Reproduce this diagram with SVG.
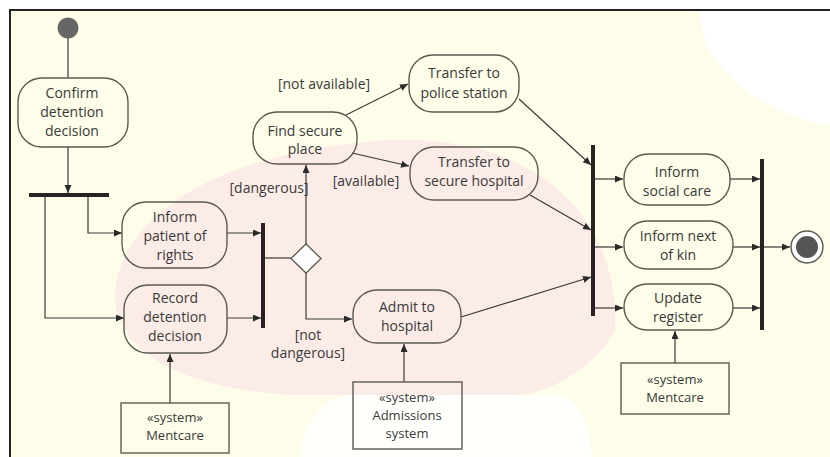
<svg xmlns="http://www.w3.org/2000/svg" width="830" height="457" viewBox="0 0 830 457">
<style>
.box{fill:none;stroke:#5a5a50;stroke-width:1.4}
.t{font-family:"Open Sans","Noto Sans",sans-serif;font-size:14px;fill:#3a3a3a;text-anchor:middle}
.s{font-size:13px}
.c{fill:none;stroke:#3a3a3a;stroke-width:1.2}
.bar{fill:#2a2222}
</style>
<defs>
<marker id="ah" markerUnits="userSpaceOnUse" markerWidth="9" markerHeight="8" refX="8" refY="3.5" orient="auto">
<path d="M0,0 L8,3.5 L0,7 z" fill="#2a2a2a"/>
</marker>
</defs>
<g id="background">
<rect x="0" y="0" width="830" height="457" fill="#fdfde9"/>
<path d="M115,300 C115,210 230,150 390,140 C540,135 620,220 615,330 C600,360 560,390 520,395 H290 C200,390 120,360 115,300 Z" fill="#fbe7e6" opacity="0.8"/>
<path d="M300,457 C305,420 320,400 350,395 H560 C580,400 590,420 592,457 Z" fill="#ffffff" opacity="0.85"/>
<path d="M700,10 H830 V125 C790,120 740,95 715,60 C705,45 700,25 700,10 Z" fill="#ffffff"/>
<rect x="0" y="0" width="830" height="10" fill="#ffffff"/>
<rect x="0" y="0" width="10" height="457" fill="#ffffff"/>
<path d="M10,457 V10 H830" fill="none" stroke="#222" stroke-width="2"/>
</g>
<g id="connectors">
<line class="c" x1="68" y1="38" x2="68" y2="78"/>
<line class="c" x1="68" y1="147" x2="68" y2="193" marker-end="url(#ah)"/>
<path class="c" d="M88,197 V233 H122" marker-end="url(#ah)"/>
<path class="c" d="M45,197 V318 H124" marker-end="url(#ah)"/>
<line class="c" x1="227" y1="233" x2="261" y2="233" marker-end="url(#ah)"/>
<line class="c" x1="227" y1="318" x2="261" y2="318" marker-end="url(#ah)"/>
<line class="c" x1="265" y1="258" x2="291" y2="258"/>
<line class="c" x1="306" y1="244" x2="306" y2="165" marker-end="url(#ah)"/>
<path class="c" d="M306,273 V319 H352" marker-end="url(#ah)"/>
<line class="c" x1="346" y1="115" x2="408" y2="84" marker-end="url(#ah)"/>
<line class="c" x1="352" y1="153" x2="409" y2="166" marker-end="url(#ah)"/>
<line class="c" x1="519" y1="99" x2="591" y2="165" marker-end="url(#ah)"/>
<line class="c" x1="530" y1="195" x2="591" y2="230" marker-end="url(#ah)"/>
<line class="c" x1="461" y1="317" x2="591" y2="277" marker-end="url(#ah)"/>
<line class="c" x1="595" y1="179" x2="623" y2="179" marker-end="url(#ah)"/>
<line class="c" x1="595" y1="247" x2="623" y2="247" marker-end="url(#ah)"/>
<line class="c" x1="595" y1="308" x2="623" y2="308" marker-end="url(#ah)"/>
<line class="c" x1="730" y1="179" x2="760" y2="179" marker-end="url(#ah)"/>
<line class="c" x1="733" y1="247" x2="760" y2="247" marker-end="url(#ah)"/>
<line class="c" x1="733" y1="308" x2="760" y2="308" marker-end="url(#ah)"/>
<line class="c" x1="764" y1="247" x2="790" y2="247" marker-end="url(#ah)"/>
<line class="c" x1="170" y1="403" x2="170" y2="354" marker-end="url(#ah)"/>
<line class="c" x1="404" y1="382" x2="404" y2="344" marker-end="url(#ah)"/>
<line class="c" x1="675" y1="363" x2="675" y2="331" marker-end="url(#ah)"/>
<text class="t" x="324" y="89">[not available]</text>
<text class="t" x="366" y="186">[available]</text>
<text class="t" x="269" y="193">[dangerous]</text>
<text class="t" x="308" y="340">[not</text>
<text class="t" x="308" y="358">dangerous]</text>
</g>
<g id="start"><circle cx="68" cy="28" r="10.5" fill="#666"/></g>
<g id="confirm"><rect class="box" x="18" y="78" width="110" height="69" rx="24"/>
<text class="t" x="72" y="98">Confirm</text><text class="t" x="72" y="117">detention</text><text class="t" x="72" y="136">decision</text></g>
<g id="fork1"><rect class="bar" x="29" y="193" width="80" height="4"/></g>
<g id="inform-patient"><rect class="box" x="122" y="202" width="105" height="66" rx="24"/>
<text class="t" x="175" y="222">Inform</text><text class="t" x="175" y="241">patient of</text><text class="t" x="175" y="260">rights</text></g>
<g id="record"><rect class="box" x="124" y="285" width="103" height="68" rx="24"/>
<text class="t" x="175" y="303">Record</text><text class="t" x="175" y="322">detention</text><text class="t" x="175" y="341">decision</text></g>
<g id="join1"><rect class="bar" x="261" y="223" width="4" height="105"/></g>
<g id="decision"><polygon points="306,244 321,258.5 306,273 291,258.5" fill="#fff" stroke="#5a5a50" stroke-width="1.3"/></g>
<g id="find"><rect class="box" x="253" y="112" width="104" height="52" rx="24"/>
<text class="t" x="305" y="136">Find secure</text><text class="t" x="305" y="154">place</text></g>
<g id="police"><rect class="box" x="409" y="55" width="110" height="57" rx="24"/>
<text class="t" x="464" y="78">Transfer to</text><text class="t" x="464" y="98">police station</text></g>
<g id="secure-hospital"><rect class="box" x="410" y="147" width="128" height="53" rx="24"/>
<text class="t" x="474" y="167">Transfer to</text><text class="t" x="474" y="186">secure hospital</text></g>
<g id="admit"><rect class="box" x="353" y="290" width="108" height="53" rx="24"/>
<text class="t" x="407" y="312">Admit to</text><text class="t" x="407" y="331">hospital</text></g>
<g id="fork2"><rect class="bar" x="591" y="145" width="4" height="171"/></g>
<g id="social-care"><rect class="box" x="624" y="154" width="106" height="51" rx="24"/>
<text class="t" x="677" y="177">Inform</text><text class="t" x="677" y="196">social care</text></g>
<g id="next-of-kin"><rect class="box" x="624" y="221" width="109" height="48" rx="23"/>
<text class="t" x="678" y="241">Inform next</text><text class="t" x="678" y="260">of kin</text></g>
<g id="update-register"><rect class="box" x="624" y="284" width="109" height="46" rx="23"/>
<text class="t" x="678" y="303">Update</text><text class="t" x="678" y="322">register</text></g>
<g id="join2"><rect class="bar" x="760" y="159" width="4" height="171"/></g>
<g id="end"><circle cx="807" cy="247" r="16" fill="#fff" stroke="#5a5a50" stroke-width="1.4"/><circle cx="807" cy="247" r="11" fill="#555"/></g>
<g id="mentcare1"><rect class="box" x="121" y="403" width="108" height="50"/>
<text class="t s" x="175" y="422">«system»</text><text class="t s" x="175" y="440">Mentcare</text></g>
<g id="admissions"><rect class="box" x="353" y="382" width="109" height="67"/>
<text class="t s" x="407" y="402">«system»</text><text class="t s" x="407" y="420">Admissions</text><text class="t s" x="407" y="438">system</text></g>
<g id="mentcare2"><rect class="box" x="621" y="363" width="108" height="51"/>
<text class="t s" x="675" y="384">«system»</text><text class="t s" x="675" y="402">Mentcare</text></g>
</svg>
